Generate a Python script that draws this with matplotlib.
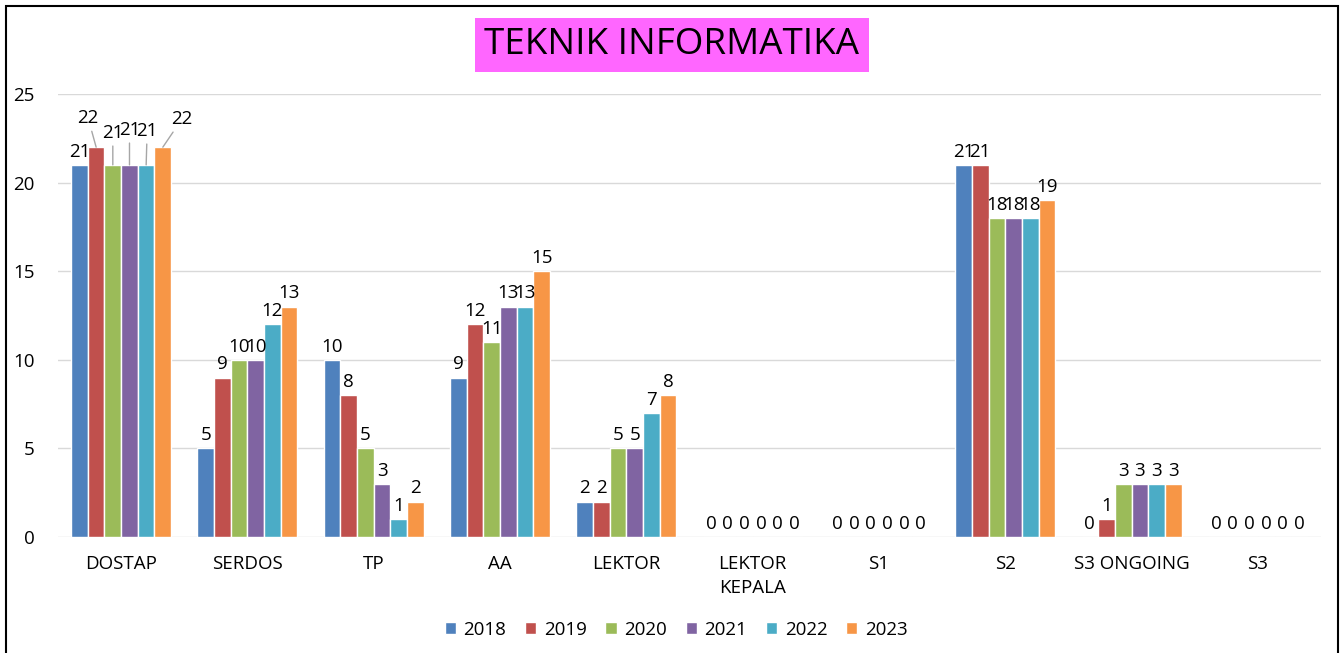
import numpy as np
import matplotlib.pyplot as plt
from matplotlib.patches import Rectangle

plt.rcParams['font.family'] = ['Open Sans', 'DejaVu Sans']

categories = ["DOSTAP", "SERDOS", "TP", "AA", "LEKTOR", "LEKTOR\nKEPALA",
              "S1", "S2", "S3 ONGOING", "S3"]
years = ["2018", "2019", "2020", "2021", "2022", "2023"]
v2018 = [21, 5, 10, 9, 2, 0, 0, 21, 0, 0]
v2019 = [22, 9, 8, 12, 2, 0, 0, 21, 1, 0]
v2020 = [21, 10, 5, 11, 5, 0, 0, 18, 3, 0]
v2021 = [21, 10, 3, 13, 5, 0, 0, 18, 3, 0]
v2022 = [21, 12, 1, 13, 7, 0, 0, 18, 3, 0]
v2023 = [22, 13, 2, 15, 8, 0, 0, 19, 3, 0]
series = [v2018, v2019, v2020, v2021, v2022, v2023]
colors = ["#4F81BD", "#C0504D", "#9BBB59", "#8064A2", "#4BACC6", "#F79646"]

# DOSTAP labels are pushed up with leader lines (offset of label centre, pixels)
dostap_offsets = [None, (-8, 29), (0, 32), (0, 35), (1, 34), (19, 28)]

fig = plt.figure(figsize=(13.4, 6.53), dpi=100)
ax = fig.add_axes([58 / 1340, 1 - 537 / 653, 1263 / 1340, 443 / 653])

x = np.arange(len(categories))
slot = 0.132
for i, (vals, c) in enumerate(zip(series, colors)):
    pos = x + (i - 2.5) * slot
    ax.bar(pos, vals, width=slot, color=c, edgecolor="white", linewidth=1.0,
           label=years[i], zorder=3)
    for j, (px, v) in enumerate(zip(pos, vals)):
        if j == 0 and dostap_offsets[i] is not None:
            dx, dy = dostap_offsets[i]
            ax.annotate(str(v), (px, v), xytext=(dx * 0.72, dy * 0.72),
                        textcoords="offset points", ha="center", va="center",
                        fontsize=13.5,
                        arrowprops=dict(arrowstyle="-", color="#A6A6A6", lw=1,
                                        shrinkA=1, shrinkB=0))
        else:
            ax.annotate(str(v), (px, v), xytext=(0, 3), textcoords="offset points",
                        ha="center", va="bottom", fontsize=13.5, zorder=4)

ax.set_xlim(-0.5, len(categories) - 0.5)
ax.set_ylim(0, 25)
ax.set_yticks([0, 5, 10, 15, 20, 25])
ax.yaxis.grid(True, color="#D9D9D9", lw=1, zorder=0)
ax.set_axisbelow(True)
for s in ax.spines.values():
    s.set_visible(False)
ax.tick_params(axis="both", length=0, labelsize=13.5)
ax.tick_params(axis="y", pad=17)
ax.tick_params(axis="x", pad=13)
ax.set_xticks(x)
ax.set_xticklabels(categories, va="top", linespacing=1.4)

fig.text(672 / 1340, 1 - 45 / 653, "TEKNIK INFORMATIKA", ha="center", va="center",
         fontsize=26.5,
         bbox=dict(boxstyle="square,pad=0.25", facecolor="#FF66FF", edgecolor="none"))

leg = fig.legend(loc="center", bbox_to_anchor=(676 / 1340, 1 - 630 / 653), ncol=6,
                 frameon=False, fontsize=13.5, handlelength=0.6, handleheight=0.6,
                 handletextpad=0.4, columnspacing=1.0)

fig.patches.append(Rectangle((6 / 1340, -0.01), 1332 / 1340, 1.01 - 6 / 653,
                             transform=fig.transFigure, fill=False,
                             edgecolor="black", lw=1.5))

fig.savefig("out.png", dpi=100)
